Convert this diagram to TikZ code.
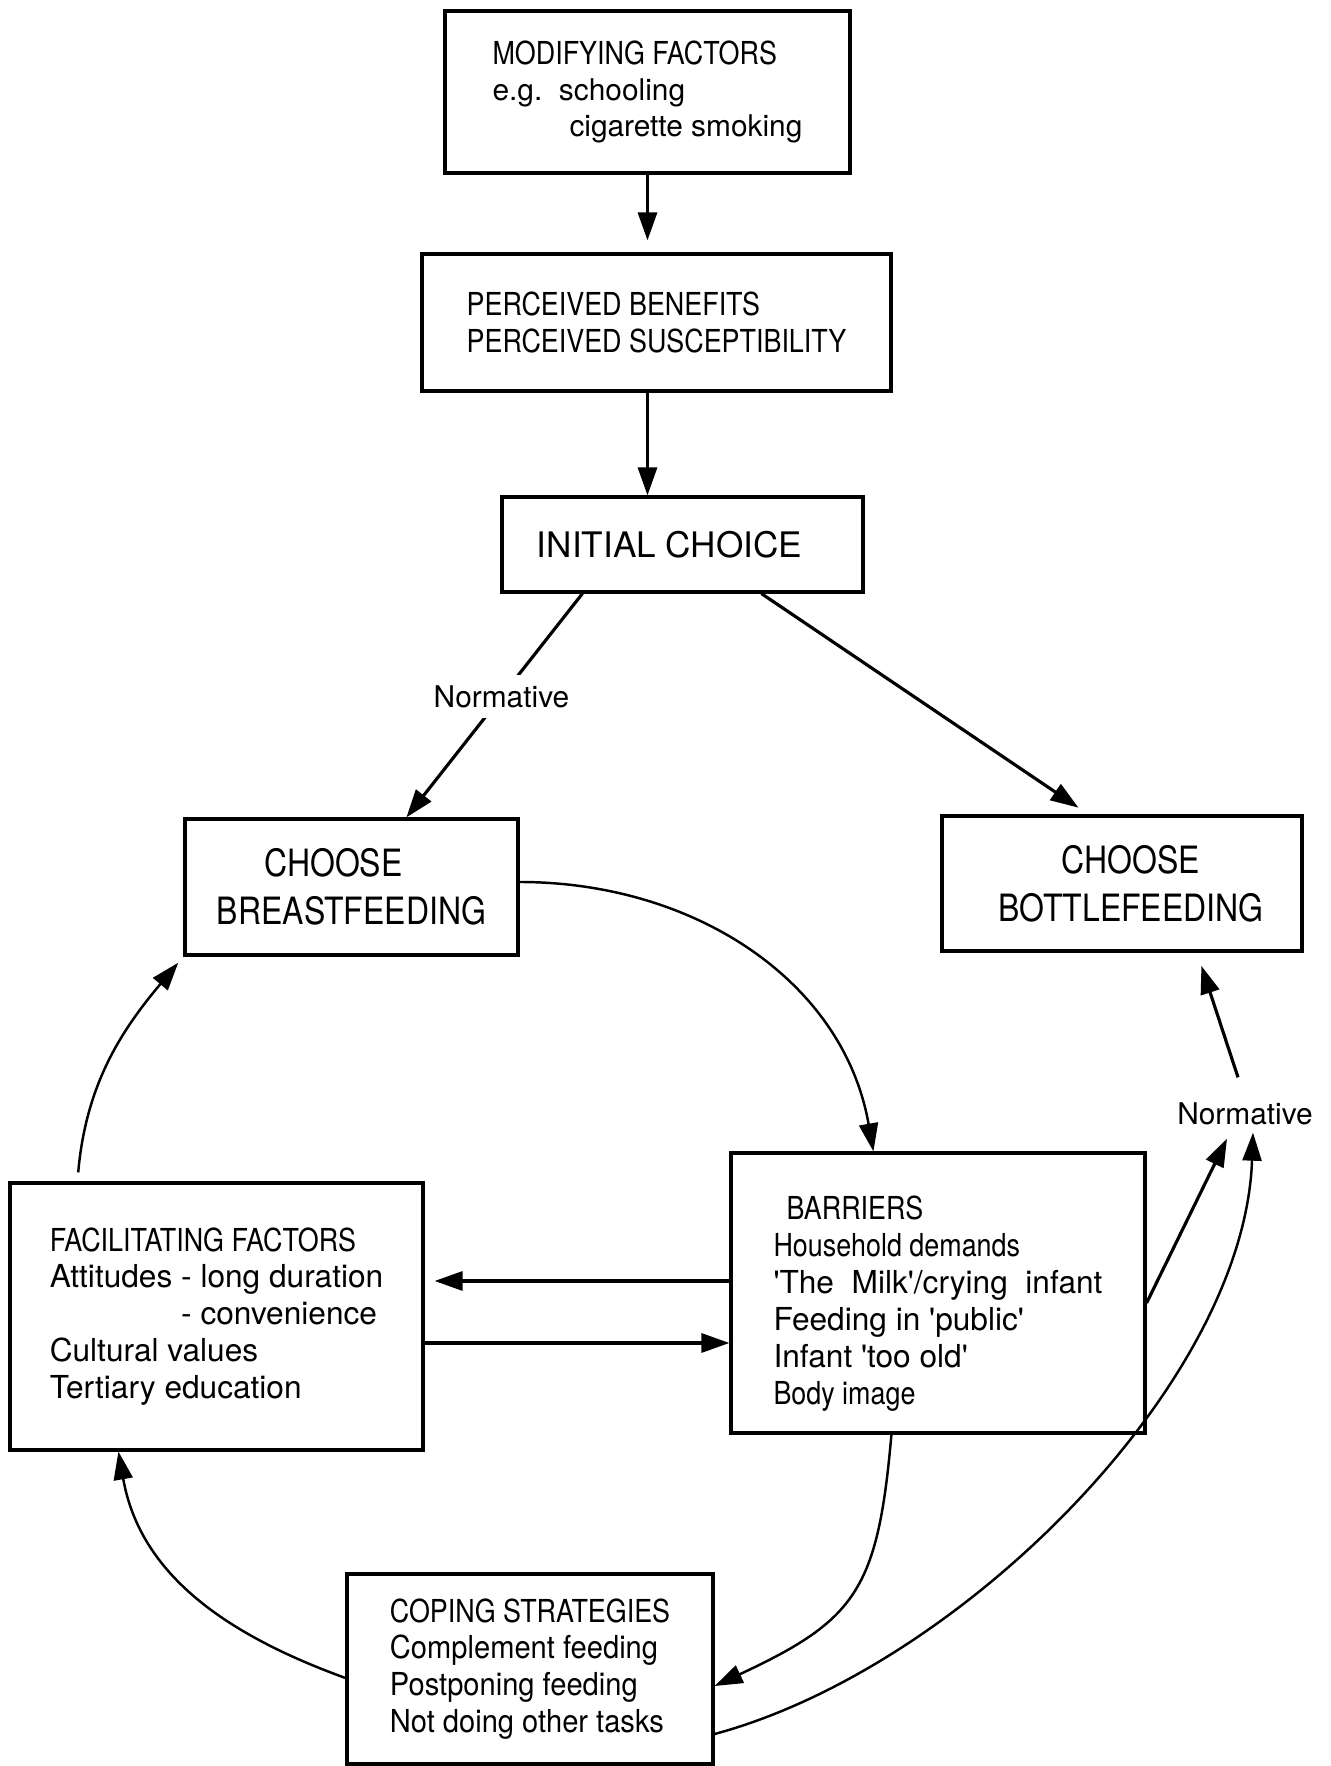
\documentclass[tikz,border=0pt]{standalone}
\usepackage{fontspec}
\setmainfont{TeX Gyre Heros}
\newfontfamily\condfont[FakeStretch=0.85]{TeX Gyre Heros}
\newfontfamily\narrowfont[FakeStretch=0.92]{TeX Gyre Heros}
\usetikzlibrary{arrows.meta}
\newcommand{\q}{\textquotesingle}
\begin{document}
\begin{tikzpicture}[line width=0.9pt, >={Triangle[length=2.8mm,width=1.9mm]},
  font=\fontsize{9}{10.5}\selectfont,
  box/.style={draw, align=left, inner sep=0pt},
  big/.style={font=\condfont\fontsize{10.7}{13.6}\selectfont, align=center},
  lbl/.style={fill=white, inner sep=1mm, font=\fontsize{8.5}{10}\selectfont},
  curve/.style={->, line width=0.7pt}]
  \useasboundingbox (0,0) rectangle (13.31,17.66);
  \node[box, minimum width=4.05cm, minimum height=1.62cm, font=\fontsize{8.5}{10.3}\selectfont] (mod) at (6.475,16.74)
    {{\condfont\fontsize{9}{10.3}\selectfont MODIFYING FACTORS}\\e.g.\ \ schooling\\\hspace*{7.7mm}cigarette smoking};
  \node[box, minimum width=4.69cm, minimum height=1.37cm, font=\condfont\fontsize{9}{10.4}\selectfont] (perc) at (6.565,14.435)
    {PERCEIVED BENEFITS\\PERCEIVED SUSCEPTIBILITY};
  \node[box, minimum width=3.61cm, minimum height=0.95cm, font=\fontsize{10}{12}\selectfont] (init) at (6.825,12.215)
    {INITIAL CHOICE\hspace*{2.6mm}};
  \node[box, big, minimum width=3.33cm, minimum height=1.36cm] (breast) at (3.515,8.79) {CHOOSE\hspace*{3.6mm}\\BREASTFEEDING};
  \node[box, big, minimum width=3.6cm, minimum height=1.35cm] (bottle) at (11.22,8.825) {\hspace*{1.8mm}CHOOSE\\\hspace*{1.8mm}BOTTLEFEEDING};
  \node[box, minimum width=4.13cm, minimum height=2.67cm] (facil) at (2.165,4.495)
    {{\condfont FACILITATING FACTORS}\\Attitudes - long duration\\\phantom{Attitudes }- convenience\\Cultural values\\Tertiary education};
  \node[box, minimum width=4.14cm, minimum height=2.8cm] (barr) at (9.38,4.73)
    {\rule{0pt}{4.5mm}\hspace*{1.3mm}{\condfont BARRIERS}\\{\condfont Household demands}\\\q The\ \ Milk\q/crying\ \ infant\\Feeding in \q public\q\\Infant \q too old\q\\{\condfont Body image}};
  \node[box, minimum width=3.66cm, minimum height=1.9cm, font=\narrowfont\fontsize{9}{10.5}\selectfont] (cope) at (5.30,0.97)
    {{\condfont COPING STRATEGIES}\\Complement feeding\\Postponing feeding\\Not doing other tasks};
  \node[lbl, inner sep=0.6mm] (norm2) at (12.45,6.52) {Normative};
  \draw[->, shorten >=1.2mm] (mod.south) -- (mod.south |- perc.north);
  \draw[->] (mod.south |- perc.south) -- (mod.south |- init.north);
  \draw[->] ([xshift=8.2mm]init.south west) -- node[lbl, pos=0.46] (norm1) {Normative} ([xshift=22.3mm]breast.north west);
  \draw[->, shorten >=1.2mm] ([xshift=26.1mm]init.south west) -- ([xshift=14.8mm]bottle.north west);
  \draw[curve] ([yshift=0.5mm]breast.east) to[out=0, in=100] ([xshift=14.4mm]barr.north west);
  \draw[->, shorten >=1mm] ([yshift=1.2mm]barr.west) -- ([yshift=1.2mm]barr.west -| facil.east);
  \draw[->] ([yshift=-5mm]barr.west -| facil.east) -- ([yshift=-5mm]barr.west);
  \draw[curve, shorten <=0.9mm, shorten >=0.8mm] ([xshift=6.9mm]facil.north west) to[out=85, in=230] (breast.south west);
  \draw[curve] ([xshift=16.2mm]barr.south west) to[out=-95, in=25, looseness=1.3] ([yshift=-1.7mm]cope.east);
  \draw[curve] ([yshift=-0.9mm]cope.west) to[out=160, in=-80] ([xshift=11mm]facil.south west);
  \draw[->] ([yshift=-1mm]barr.east) -- ([xshift=-1.8mm,yshift=-0.6mm]norm2.south);
  \draw[curve] ([yshift=-6.5mm]cope.east) to[out=15, in=-92, looseness=0.8] ([xshift=0.8mm]norm2.south);
  \draw[->, shorten >=1.4mm] ([xshift=-0.7mm,yshift=1.8mm]norm2.north) -- ([xshift=7.5mm]bottle.south);
\end{tikzpicture}
\end{document}
